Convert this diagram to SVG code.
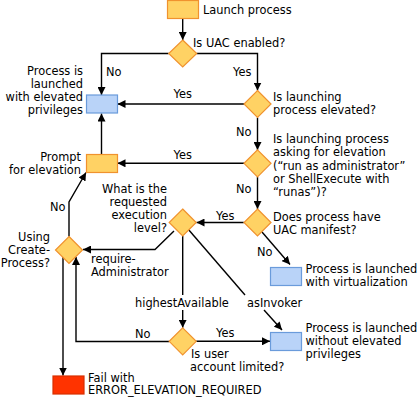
<svg xmlns="http://www.w3.org/2000/svg" width="419" height="398" viewBox="0 0 419 398">
<style>
text{font-family:"DejaVu Sans","Verdana",sans-serif;font-size:11.4px;fill:#000}
.r{text-anchor:end}
.y{fill:#FFD264;stroke:#F0922E;stroke-width:1.2}
.b{fill:#B9D3F8;stroke:#6A9BDB;stroke-width:1.2}
.red{fill:#FF3300;stroke:#D83000;stroke-width:1.2}
.c{fill:none;stroke:#000;stroke-width:1.4}
.a{marker-end:url(#ah)}
</style>
<defs>
<marker id="ah" markerUnits="userSpaceOnUse" markerWidth="9" markerHeight="8" refX="8" refY="4" orient="auto">
<path d="M0,0 L8,4 L0,8 z" fill="#000"/>
</marker>
</defs>
<rect width="419" height="398" fill="#fff"/>
<g id="connectors">
<line class="c a" x1="182.7" y1="19" x2="182.7" y2="40"/>
<polyline class="c a" points="168.7,53.5 101.5,53.5 101.5,95"/>
<polyline class="c a" points="196.7,53.5 257.5,53.5 257.5,90.5"/>
<line class="c a" x1="244" y1="104" x2="117.5" y2="104"/>
<line class="c a" x1="257.5" y1="117.5" x2="257.5" y2="150"/>
<line class="c a" x1="244" y1="163.3" x2="117.5" y2="163.3"/>
<line class="c a" x1="101.5" y1="154.3" x2="101.5" y2="113.5"/>
<line class="c a" x1="257.5" y1="176.8" x2="257.5" y2="209"/>
<line class="c a" x1="243.8" y1="222.5" x2="196.5" y2="222.5"/>
<line class="c a" x1="262" y1="232" x2="290" y2="264.5"/>
<polyline class="c a" points="174,231 155,249.5 83,249.5"/>
<line class="c" x1="182.7" y1="236" x2="182.7" y2="295"/>
<line class="c a" x1="182.7" y1="310" x2="182.7" y2="327.8"/>
<line class="c" x1="188" y1="229" x2="245" y2="295"/>
<line class="c a" x1="264" y1="310" x2="282" y2="330"/>
<line class="c a" x1="196.2" y1="341.3" x2="270" y2="341.3"/>
<polyline class="c a" points="169.2,341.5 76,341.5 76,257"/>
<polyline class="c a" points="69,236.5 69,202 86,172.5"/>
<line class="c a" x1="63" y1="257" x2="63" y2="375.5"/>
<text x="106" y="75.5">No</text>
<text x="233" y="75.5">Yes</text>
<text x="173.5" y="98">Yes</text>
<text x="236" y="135.5">No</text>
<text x="173.5" y="159">Yes</text>
<text x="236" y="193">No</text>
<text x="216" y="219.5">Yes</text>
<text x="257" y="256">No</text>
<text x="91" y="263">require-</text>
<text x="91" y="275.5">Administrator</text>
<text x="135" y="307">highestAvailable</text>
<text x="247" y="307">asInvoker</text>
<text x="135" y="337.5">No</text>
<text x="216" y="337">Yes</text>
<text x="50" y="210.5">No</text>
</g>
<g id="launch">
<rect class="y" x="167.5" y="0.5" width="31" height="18"/>
<text x="203" y="14">Launch process</text>
</g>
<g id="uac">
<polygon class="y" points="182.7,40 196.7,53.5 182.7,67 168.7,53.5"/>
<text x="193" y="46.5">Is UAC enabled?</text>
</g>
<g id="elevated-box">
<rect class="b" x="86.5" y="95" width="31" height="18"/>
<text class="r" x="83" y="74.5">Process is</text>
<text class="r" x="83" y="87.5">launched</text>
<text class="r" x="83" y="100.5">with elevated</text>
<text class="r" x="83" y="113.5">privileges</text>
</g>
<g id="is-elevated">
<polygon class="y" points="257.5,90.5 271,104 257.5,117.5 244,104"/>
<text x="273" y="100.5">Is launching</text>
<text x="273" y="113.5">process elevated?</text>
</g>
<g id="asking">
<polygon class="y" points="257.5,149.8 271,163.3 257.5,176.8 244,163.3"/>
<text x="273" y="143">Is launching process</text>
<text x="273" y="156.3">asking for elevation</text>
<text x="273" y="169.6">(“run as administrator”</text>
<text x="273" y="182.9">or ShellExecute with</text>
<text x="273" y="196.2">“runas”)?</text>
</g>
<g id="prompt">
<rect class="y" x="86.5" y="154.5" width="31" height="18"/>
<text class="r" x="81" y="160.5">Prompt</text>
<text class="r" x="81" y="173.5">for elevation</text>
</g>
<g id="manifest">
<polygon class="y" points="257.5,209 271,222.5 257.5,236 244,222.5"/>
<text x="273" y="220.5">Does process have</text>
<text x="273" y="234">UAC manifest?</text>
</g>
<g id="level">
<polygon class="y" points="182.7,209 196.2,222.5 182.7,236 169.2,222.5"/>
<text class="r" x="167" y="193">What is the</text>
<text class="r" x="167" y="206">requested</text>
<text class="r" x="167" y="219.3">execution</text>
<text class="r" x="167" y="232.3">level?</text>
</g>
<g id="virtualization">
<rect class="b" x="270.5" y="267.5" width="31" height="18"/>
<text x="305.5" y="273">Process is launched</text>
<text x="305.5" y="286">with virtualization</text>
</g>
<g id="createprocess">
<polygon class="y" points="69,236.5 82.5,250 69,263.5 55.5,250"/>
<text class="r" x="50" y="240.5">Using</text>
<text class="r" x="50" y="253.5">Create-</text>
<text class="r" x="50" y="266.5">Process?</text>
</g>
<g id="limited">
<polygon class="y" points="182.7,327.8 196.2,341.3 182.7,354.8 169.2,341.3"/>
<text x="191" y="358">Is user</text>
<text x="190" y="370.8">account limited?</text>
</g>
<g id="not-elevated">
<rect class="b" x="270.5" y="332.5" width="31" height="18"/>
<text x="305.5" y="331.5">Process is launched</text>
<text x="305.5" y="344.8">without elevated</text>
<text x="305.5" y="358">privileges</text>
</g>
<g id="fail">
<rect class="red" x="53" y="376" width="31" height="18"/>
<text x="88" y="381.5">Fail with</text>
<text x="88" y="394.3">ERROR_ELEVATION_REQUIRED</text>
</g>
</svg>
